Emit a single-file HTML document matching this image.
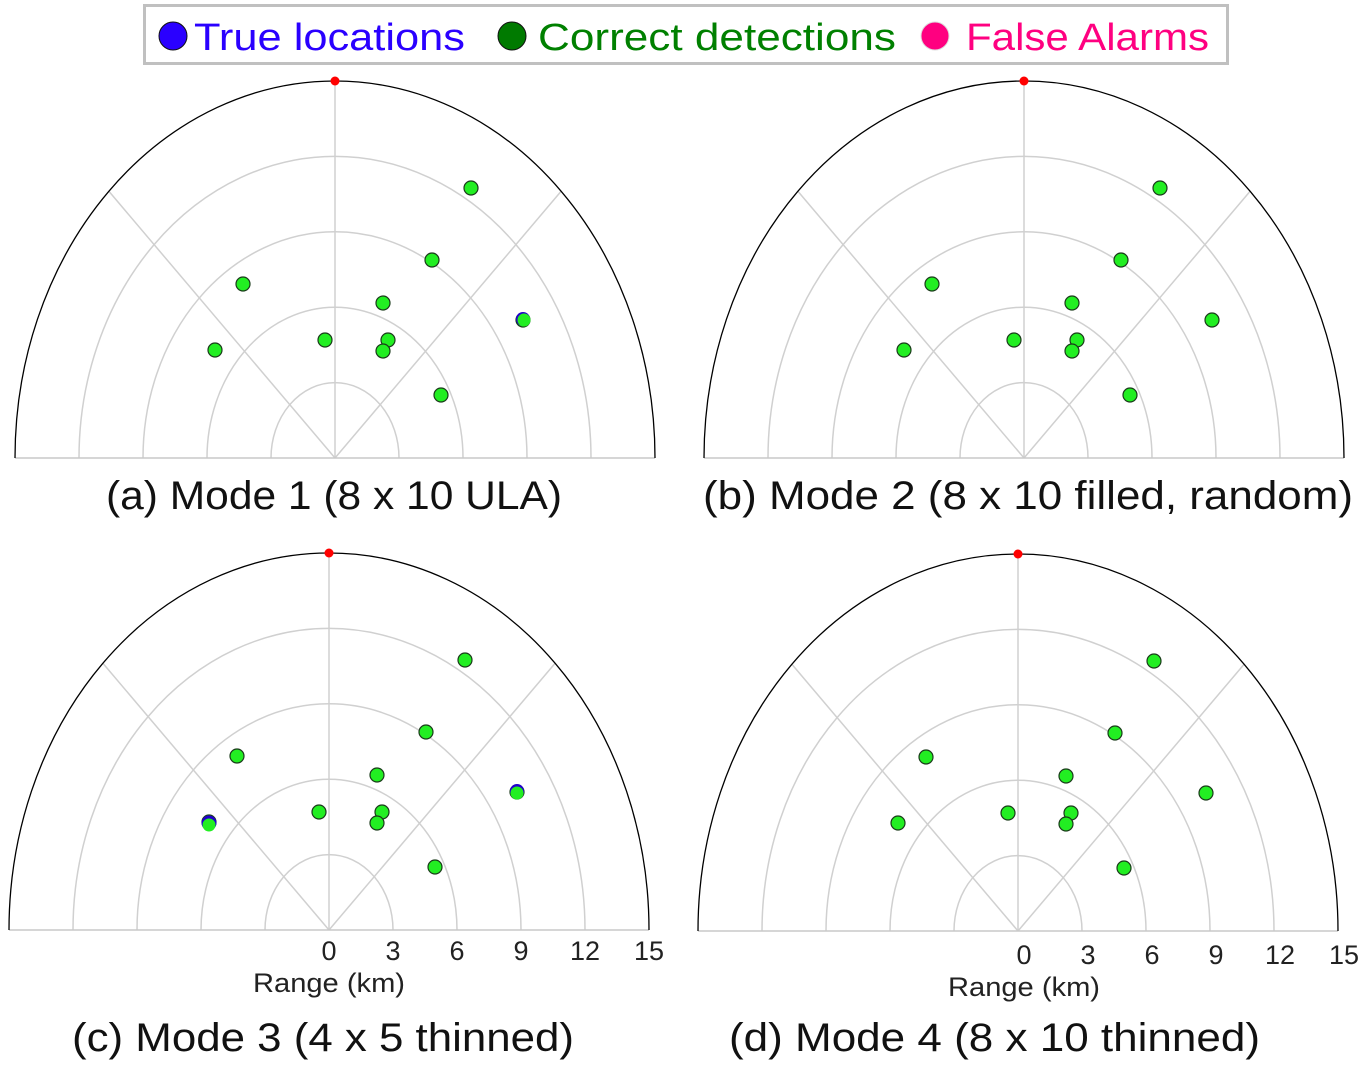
<!DOCTYPE html>
<html><head><meta charset="utf-8"><style>
html,body{margin:0;padding:0;background:#fff}
svg{display:block}
text{font-family:"Liberation Sans","DejaVu Sans",sans-serif}
</style></head><body>
<svg width="1363" height="1069" viewBox="0 0 1363 1069" xmlns="http://www.w3.org/2000/svg">
<defs>
<g id="plot">
  <path d="M-64,0 A64,75.4 0 0 1 64,0" fill="none" stroke="#d0d0d0" stroke-width="1.5"/>
  <path d="M-128,0 A128,150.8 0 0 1 128,0" fill="none" stroke="#d0d0d0" stroke-width="1.5"/>
  <path d="M-192,0 A192,226.2 0 0 1 192,0" fill="none" stroke="#d0d0d0" stroke-width="1.5"/>
  <path d="M-256,0 A256,301.6 0 0 1 256,0" fill="none" stroke="#d0d0d0" stroke-width="1.5"/>
  <line x1="0" y1="0" x2="0" y2="-377" stroke="#d0d0d0" stroke-width="1.5"/>
  <line x1="0" y1="0" x2="-226" y2="-266.6" stroke="#d0d0d0" stroke-width="1.5"/>
  <line x1="0" y1="0" x2="226" y2="-266.6" stroke="#d0d0d0" stroke-width="1.5"/>
  <line x1="-320" y1="0" x2="320" y2="0" stroke="#c8c8c8" stroke-width="1.5"/>
  <path d="M-320,0 A320,377 0 0 1 320,0" fill="none" stroke="#000" stroke-width="1.3"/>
  <circle cx="0" cy="-377" r="4.5" fill="#ff0000"/>
  <g stroke="#1a3a1a" stroke-width="1.2" fill="#22ee22">
    <circle cx="136" cy="-270" r="7"/>
    <circle cx="97" cy="-198" r="7"/>
    <circle cx="-92" cy="-174" r="7"/>
    <circle cx="48" cy="-155" r="7"/>
    <circle cx="188" cy="-138" r="7"/>
    <circle cx="-120" cy="-108" r="7"/>
    <circle cx="-10" cy="-118" r="7"/>
    <circle cx="53" cy="-118" r="7"/>
    <circle cx="48" cy="-107" r="7"/>
    <circle cx="106" cy="-63" r="7"/>
  </g>
</g>
<g id="ticks" font-size="27" fill="#222" text-anchor="middle">
  <text x="0" y="30">0</text><text x="64" y="30">3</text><text x="128" y="30">6</text>
  <text x="192" y="30">9</text><text x="256" y="30">12</text><text x="320" y="30">15</text>
  <text x="0" y="62" textLength="152" lengthAdjust="spacingAndGlyphs">Range (km)</text>
</g>
</defs>

<rect x="144.5" y="5.5" width="1083" height="58" fill="#fff" stroke="#c0c0c0" stroke-width="3"/>
<circle cx="173" cy="36" r="14" fill="#2a00ff" stroke="#111" stroke-width="1"/>
<text x="194" y="50" font-size="38" fill="#2a00ff" textLength="271" lengthAdjust="spacingAndGlyphs">True locations</text>
<circle cx="512" cy="36" r="14" fill="#007a00" stroke="#111" stroke-width="1"/>
<text x="538" y="50" font-size="38" fill="#008000" textLength="358" lengthAdjust="spacingAndGlyphs">Correct detections</text>
<circle cx="935" cy="36" r="14" fill="#ff0080" stroke="#ddd" stroke-width="1"/>
<text x="966" y="50" font-size="38" fill="#ff0080" textLength="243" lengthAdjust="spacingAndGlyphs">False Alarms</text>

<use href="#plot" x="335" y="458"/>
<use href="#plot" x="1024" y="458"/>
<use href="#plot" x="329" y="930"/>
<use href="#plot" x="1018" y="931"/>
<circle cx="523" cy="319" r="7" fill="#2200cc"/><circle cx="524" cy="320" r="6.5" fill="#22ee22"/>
<circle cx="209" cy="823" r="7.5" fill="#2200cc"/><circle cx="209" cy="825" r="6.5" fill="#22ee22"/>
<circle cx="517" cy="791" r="7" fill="#2200cc"/><circle cx="517" cy="793" r="6.5" fill="#22ee22"/>

<use href="#ticks" x="329" y="930"/>
<use href="#ticks" x="1024" y="934"/>

<g font-size="40" fill="#111">
<text x="106" y="509" textLength="456" lengthAdjust="spacingAndGlyphs">(a) Mode 1 (8 x 10 ULA)</text>
<text x="703" y="509" textLength="650" lengthAdjust="spacingAndGlyphs">(b) Mode 2 (8 x 10 filled, random)</text>
<text x="72" y="1051" textLength="502" lengthAdjust="spacingAndGlyphs">(c) Mode 3 (4 x 5 thinned)</text>
<text x="729" y="1051" textLength="531" lengthAdjust="spacingAndGlyphs">(d) Mode 4 (8 x 10 thinned)</text>
</g>
</svg>
</body></html>
